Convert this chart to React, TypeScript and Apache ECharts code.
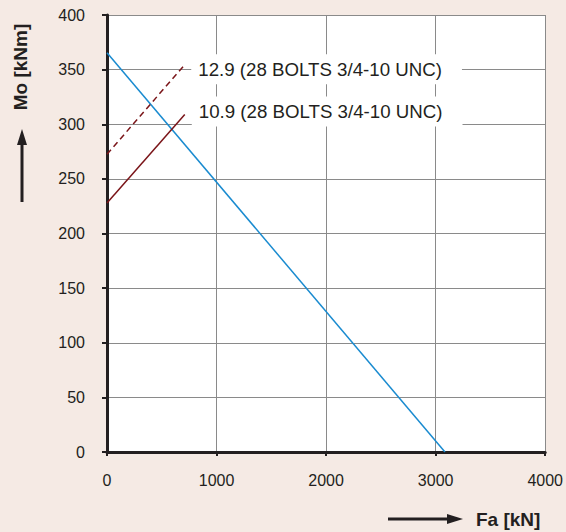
import React, { useEffect, useRef } from "react";
import * as echarts from "echarts";

const xTicks = [0, 1000, 2000, 3000, 4000];
const yTicks = [0, 50, 100, 150, 200, 250, 300, 350, 400];
const capacityLine: [number, number][] = [[0, 365.5], [3085, 0]];
const bolt109: [number, number][] = [[0, 228], [710, 309]];
const bolt129: [number, number][] = [[0, 272.5], [705, 354]];
const label109 = "10.9 (28 BOLTS 3/4-10 UNC)";
const label129 = "12.9 (28 BOLTS 3/4-10 UNC)";
const xName = "Fa [kN]";
const yName = "Mo [kNm]";

const FONT = "Liberation Sans, Arial, Helvetica, sans-serif";
const TXT = "#231f20";

export default function App() {
  const ref = useRef<HTMLDivElement>(null);
  useEffect(() => {
    if (!ref.current) return;
    const chart = echarts.init(ref.current, undefined, { renderer: "svg" });
    const endLabel = (text: string, offY: number) => ({
      show: true,
      formatter: () => text,
      color: TXT,
      fontFamily: FONT,
      fontSize: 18.7,
      lineHeight: 18,
      backgroundColor: "#ffffff",
      padding: [6, 20, 6, 7],
      distance: 7,
      offset: [0, offY],
    });
    chart.setOption({
      animation: false,
      backgroundColor: "#f5eae4",
      textStyle: { fontFamily: FONT },
      grid: { left: 107, right: 20, top: 15, bottom: 80, containLabel: false, show: true, backgroundColor: "#ffffff", borderWidth: 0 },
      xAxis: {
        type: "value",
        min: xTicks[0],
        max: xTicks[xTicks.length - 1],
        interval: 1000,
        axisLine: { show: true, onZero: false, lineStyle: { color: TXT, width: 3 } },
        axisTick: { show: true, length: 4, lineStyle: { color: TXT, width: 2 } },
        axisLabel: { color: TXT, fontSize: 16, margin: 20, fontFamily: FONT, formatter: (v: number) => String(v) },
        splitLine: { show: true, lineStyle: { color: "#8a8a8a", width: 1 } },
      },
      yAxis: {
        type: "value",
        min: yTicks[0],
        max: yTicks[yTicks.length - 1],
        interval: 50,
        axisLine: { show: true, onZero: false, lineStyle: { color: TXT, width: 3 } },
        axisTick: { show: true, length: 5, lineStyle: { color: TXT, width: 2 } },
        axisLabel: { color: TXT, fontSize: 16, margin: 22, fontFamily: FONT, formatter: (v: number) => String(v) },
        splitLine: { show: true, lineStyle: { color: "#8a8a8a", width: 1 } },
      },
      series: [
        {
          type: "line",
          data: capacityLine,
          showSymbol: false,
          symbol: "none",
          lineStyle: { color: "#1a8bd0", width: 1.5 },
          z: 3,
        },
        {
          type: "line",
          data: bolt109,
          showSymbol: false,
          symbol: "none",
          lineStyle: { color: "#7a1418", width: 1.5 },
          endLabel: endLabel(label109, -3),
          z: 4,
        },
        {
          type: "line",
          data: bolt129,
          showSymbol: false,
          symbol: "none",
          lineStyle: { color: "#7a1418", width: 1.5, type: [6, 4] },
          endLabel: endLabel(label129, 4),
          z: 4,
        },
      ],
      graphic: [
        {
          type: "text",
          x: 20,
          y: 67,
          rotation: Math.PI / 2,
          style: {
            text: yName,
            fill: TXT,
            font: `bold 19px ${FONT}`,
            align: "center",
            verticalAlign: "middle",
          },
        },
        {
          type: "line",
          shape: { x1: 22, y1: 202, x2: 22, y2: 142 },
          style: { stroke: TXT, lineWidth: 3 },
        },
        {
          type: "polygon",
          shape: { points: [[22, 129], [17, 145], [27, 145]] },
          style: { fill: TXT },
        },
        {
          type: "line",
          shape: { x1: 388, y1: 519, x2: 450, y2: 519 },
          style: { stroke: TXT, lineWidth: 3 },
        },
        {
          type: "polygon",
          shape: { points: [[463, 519], [447, 514], [447, 524]] },
          style: { fill: TXT },
        },
        {
          type: "text",
          x: 476,
          y: 519,
          style: {
            text: xName,
            fill: TXT,
            font: `bold 19px ${FONT}`,
            align: "left",
            verticalAlign: "middle",
          },
        },
      ],
    });
    return () => chart.dispose();
  }, []);
  return <div ref={ref} style={{ width: 566, height: 532, position: "absolute", left: 0, top: 0 }} />;
}
